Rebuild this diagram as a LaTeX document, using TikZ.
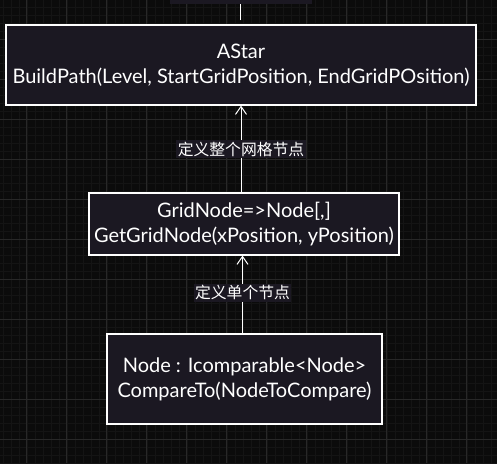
\documentclass[tikz,border=0pt]{standalone}
\usepackage{fontspec}
\setmainfont{Lato}
\newfontfamily\cjk{Noto Sans CJK SC}
\usetikzlibrary{arrows.meta,calc}
\definecolor{bgc}{HTML}{0B0B0B}
\definecolor{gridminor}{HTML}{141414}
\definecolor{gridmajor}{HTML}{282828}
\definecolor{boxfill}{HTML}{1B1822}
\tikzset{
  box/.style={draw=white, line width=1.1pt, fill=boxfill, text=white, align=center,
    font=\fontsize{20}{25}\selectfont, inner sep=0pt},
  arr/.style={draw=white, line width=1pt, -{Straight Barb[length=8pt,width=11pt,line width=1pt]}},
  lbl/.style={fill=boxfill, text=white, font=\cjk\fontsize{15.8}{17}\selectfont, inner sep=1.5pt},
  plain/.style={draw=white, line width=1pt}
}
\begin{document}
\begin{tikzpicture}[x=1pt,y=-1pt]
\useasboundingbox (0,0) rectangle (497,463);
\fill[bgc] (0,0) rectangle (497,463);
% grid
\foreach \i in {0,...,62} { \draw[gridminor, line width=0.4pt] (\i*8+2.7,0) -- (\i*8+2.7,463); }
\foreach \i in {0,...,58} { \draw[gridminor, line width=0.4pt] (0,\i*8+7.3) -- (497,\i*8+7.3); }
\foreach \i in {0,...,12} { \draw[gridmajor, line width=0.6pt] (\i*40+26.7,0) -- (\i*40+26.7,463); }
\foreach \i in {0,...,11} { \draw[gridmajor, line width=0.6pt] (0,\i*40-0.7) -- (497,\i*40-0.7); }
% partial top node
\node[fill=boxfill, minimum width=142pt, minimum height=30pt, inner sep=0pt] (top) at (241,-11.5) {};
% boxes
\node[box, minimum width=470pt, minimum height=80pt] (astar) at (241,65)
  {AStar\\BuildPath(Level, StartGridPosition, EndGridPOsition)};
\node[box, minimum width=310pt, minimum height=62pt] (grid) at (244,224)
  {GridNode=>Node[,]\\GetGridNode(xPosition, yPosition)};
\node[box, minimum width=275pt, minimum height=90pt] (node) at (244.5,379)
  {Node : Icomparable<Node>\\CompareTo(NodeToCompare)};
% connectors
\draw[plain] ([xshift=-1pt]astar.north) ++(0,-4) coordinate (c1) -- (c1 |- top.south);
\draw[arr] ([xshift=-3pt]grid.north) -- ([xshift=-3pt]grid.north |- astar.south)
  node[lbl, pos=0.5] (l1) {定义整个网格节点};
\draw[arr] ([xshift=-2pt]node.north) -- ([xshift=-2pt]node.north |- grid.south)
  node[lbl, pos=0.52] (l2) {定义单个节点};
\end{tikzpicture}
\end{document}
